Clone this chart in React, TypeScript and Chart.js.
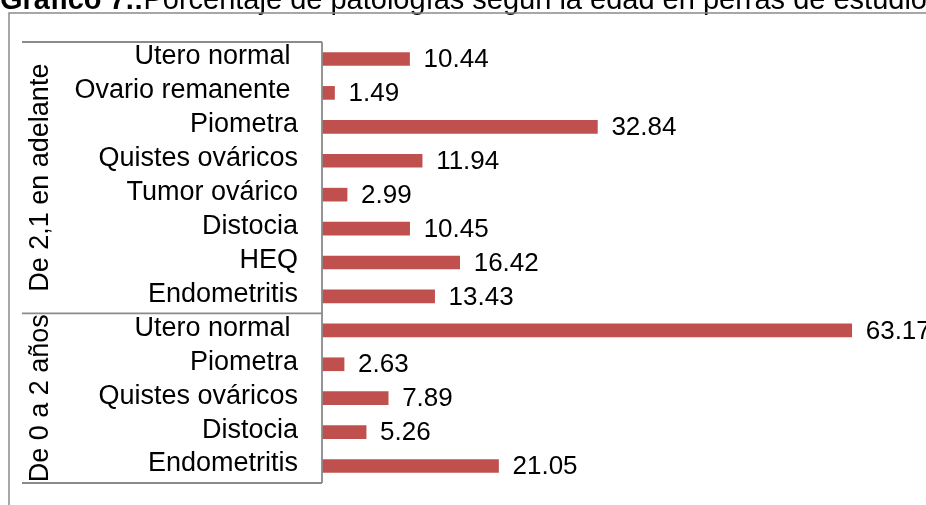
import React, { useEffect, useRef } from 'react';
import { Chart, registerables } from 'chart.js';

Chart.register(...registerables);

const titleBold = 'Gráfico 7.:';
const titleRest = 'Porcentaje de patologías según la edad en perras de estudio';
const groups = ['De 2,1 en adelante', 'De 0 a 2 años'];
const groupSizes = [8, 5];
const categories = [
  'Utero normal ',
  'Ovario remanente ',
  'Piometra',
  'Quistes ováricos',
  'Tumor ovárico',
  'Distocia',
  'HEQ',
  'Endometritis',
  'Utero normal ',
  'Piometra',
  'Quistes ováricos',
  'Distocia',
  'Endometritis',
];
const values = [10.44, 1.49, 32.84, 11.94, 2.99, 10.45, 16.42, 13.43, 63.17, 2.63, 7.89, 5.26, 21.05];
const xMin = 0;
const xMax = 70;

const FONT = '"Liberation Sans", Arial, Helvetica, sans-serif';
const BAR = '#C0504D';
const LINE = '#8a8a8a';

const decor = {
  id: 'decor',
  afterDraw(chart: any) {
    const ctx = chart.ctx as CanvasRenderingContext2D;
    const area = chart.chartArea;
    const ys = chart.scales.y;
    ctx.save();

    // title (partly cut at the top)
    ctx.fillStyle = '#000';
    ctx.textAlign = 'left';
    ctx.textBaseline = 'alphabetic';
    ctx.font = `bold 29px ${FONT}`;
    ctx.fillText(titleBold, 0, 9);
    const w = ctx.measureText(titleBold).width;
    ctx.font = `29px ${FONT}`;
    ctx.fillText(titleRest, w, 9);

    // outer frame
    ctx.strokeStyle = LINE;
    ctx.lineWidth = 1.5;
    ctx.beginPath();
    ctx.moveTo(9, chart.height + 5);
    ctx.lineTo(9, 13);
    ctx.lineTo(chart.width + 5, 13);
    ctx.stroke();

    // category box lines
    const n = categories.length;
    const bounds: number[] = [area.top];
    let start = 0;
    groupSizes.forEach((size) => {
      const end = start + size;
      bounds.push(end < n ? (ys.getPixelForValue(end - 1) + ys.getPixelForValue(end)) / 2 : area.bottom);
      start = end;
    });
    ctx.lineWidth = 1.8;
    ctx.beginPath();
    bounds.forEach((b) => {
      ctx.moveTo(22, b);
      ctx.lineTo(area.left, b);
    });
    ctx.moveTo(area.left, area.top);
    ctx.lineTo(area.left, area.bottom);
    ctx.stroke();

    // group labels (rotated)
    ctx.fillStyle = '#000';
    ctx.font = `27px ${FONT}`;
    ctx.textAlign = 'center';
    ctx.textBaseline = 'middle';
    groups.forEach((g, gi) => {
      const cy = (bounds[gi] + bounds[gi + 1]) / 2;
      ctx.save();
      ctx.translate(41, cy);
      ctx.rotate(-Math.PI / 2);
      ctx.fillText(g, 0, 0);
      ctx.restore();
    });

    // value labels
    ctx.font = `26px ${FONT}`;
    ctx.textAlign = 'left';
    ctx.textBaseline = 'middle';
    const meta = chart.getDatasetMeta(0);
    meta.data.forEach((bar: any, i: number) => {
      ctx.fillText(values[i].toFixed(2), bar.x + 14, bar.y + 1);
    });

    ctx.restore();
  },
};

export default function App() {
  const ref = useRef<HTMLCanvasElement | null>(null);
  useEffect(() => {
    if (!ref.current) return;
    const chart = new Chart(ref.current, {
      type: 'bar',
      data: {
        labels: categories,
        datasets: [
          {
            data: values,
            backgroundColor: BAR,
            borderWidth: 0,
            barThickness: 13,
          },
        ],
      },
      options: {
        indexAxis: 'y',
        animation: false,
        responsive: true,
        maintainAspectRatio: false,
        layout: { padding: { left: 0, top: 42, right: 17, bottom: 22 } },
        plugins: { legend: { display: false }, tooltip: { enabled: false }, title: { display: false } },
        scales: {
          x: { display: false, min: xMin, max: xMax },
          y: {
            type: 'category',
            position: 'left',
            grid: { display: false, drawTicks: false },
            border: { display: false },
            ticks: {
              autoSkip: false,
              padding: 24,
              labelOffset: -2,
              color: '#000',
              font: { size: 27, family: FONT },
            },
            afterFit(s: any) {
              s.width = 322;
              s.paddingTop = 0;
              s.paddingBottom = 0;
            },
          },
        },
      },
      plugins: [decor],
    });
    return () => chart.destroy();
  }, []);
  return (
    <div style={{ position: 'fixed', left: 0, top: 0, width: 926, height: 505, background: '#fff' }}>
      <canvas ref={ref} />
    </div>
  );
}
